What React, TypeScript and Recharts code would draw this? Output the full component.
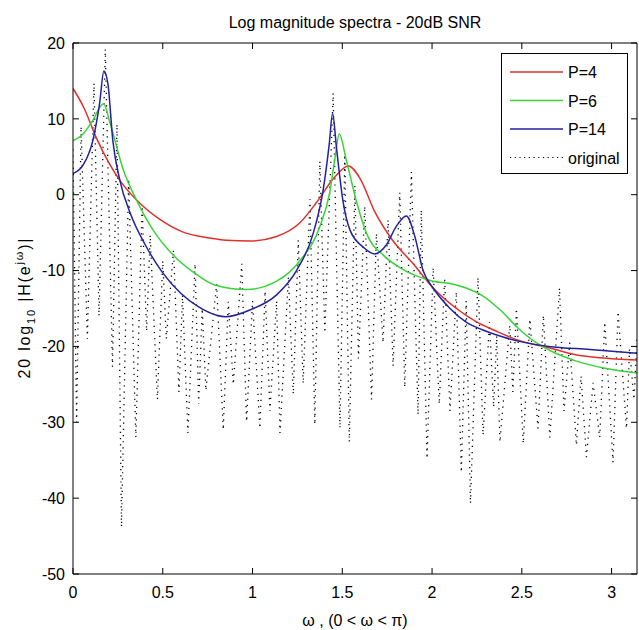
import { LineChart, Line, XAxis, YAxis, Legend } from "recharts"

const xTicks = [0, 0.5, 1, 1.5, 2, 2.5, 3]
const yTicks = [-50, -40, -30, -20, -10, 0, 10, 20]

// P=4 model spectrum
const p4W = [0, 0.06, 0.13, 0.2, 0.27, 0.35, 0.48, 0.61, 0.76, 0.855, 0.985, 1.134, 1.264, 1.357, 1.45, 1.534, 1.6, 1.68, 1.78, 1.895, 2.006, 2.136, 2.25, 2.35, 2.47, 2.656, 2.8, 2.934, 3.1416]
const p4Db = [14, 11.5, 7.5, 4.2, 1.6, -0.6, -3.2, -4.9, -5.7, -6.0, -6.1, -5.5, -3.7, -1.0, 2.1, 3.8, 2.1, -2.2, -6.0, -9.1, -12.3, -15.0, -16.8, -17.9, -19.1, -20.2, -21.1, -21.5, -21.8]

// P=6 model spectrum
const p6W = [0, 0.056, 0.11, 0.17, 0.206, 0.28, 0.36, 0.45, 0.56, 0.67, 0.79, 0.967, 1.134, 1.264, 1.375, 1.43, 1.459, 1.483, 1.524, 1.58, 1.635, 1.73, 1.82, 1.913, 2.006, 2.1, 2.19, 2.28, 2.38, 2.48, 2.58, 2.68, 2.8, 2.97, 3.1416]
const p6Db = [7.1, 8.0, 9.8, 12.0, 9.5, 3.3, -1.0, -4.8, -8.0, -10.2, -11.9, -12.5, -11.4, -8.7, -4.2, 0.3, 4.8, 8.0, 4.4, -1.0, -5.1, -8.0, -9.6, -10.7, -11.4, -11.7, -12.3, -13.3, -15.2, -17.6, -19.5, -20.8, -21.9, -22.9, -23.5]

// P=14 model spectrum
const p14W = [0, 0.056, 0.11, 0.148, 0.172, 0.194, 0.222, 0.26, 0.32, 0.4, 0.5, 0.6, 0.7, 0.8, 0.85, 0.985, 1.134, 1.245, 1.338, 1.394, 1.427, 1.446, 1.468, 1.505, 1.542, 1.616, 1.68, 1.746, 1.8, 1.857, 1.904, 1.95, 2.006, 2.1, 2.19, 2.28, 2.4, 2.5, 2.65, 2.88, 3.1416]
const p14Db = [2.8, 3.9, 7.1, 12.0, 16.3, 14.7, 7.1, 2.0, -2.5, -6.5, -10.3, -13.0, -14.8, -15.9, -16.1, -15.2, -13.2, -10.0, -5.1, 0.7, 6.6, 10.7, 6.1, -1.0, -4.6, -6.9, -7.8, -6.6, -4.2, -2.8, -5.5, -10.0, -12.3, -15.0, -16.8, -17.8, -18.8, -19.4, -20.0, -20.4, -20.9]

// original (noisy) spectrum
const origW = [0, 0.02, 0.045, 0.08, 0.117, 0.145, 0.18, 0.22, 0.245, 0.27, 0.31, 0.35, 0.385, 0.41, 0.43, 0.47, 0.5, 0.52, 0.56, 0.59, 0.61, 0.64, 0.68, 0.7, 0.72, 0.74, 0.8, 0.837, 0.865, 0.893, 0.94, 0.967, 1.0, 1.041, 1.07, 1.097, 1.134, 1.153, 1.2, 1.227, 1.255, 1.282, 1.32, 1.347, 1.375, 1.403, 1.449, 1.487, 1.514, 1.539, 1.57, 1.59, 1.625, 1.663, 1.69, 1.727, 1.755, 1.783, 1.82, 1.848, 1.885, 1.922, 1.94, 1.972, 2.006, 2.04, 2.07, 2.1, 2.135, 2.163, 2.19, 2.214, 2.256, 2.284, 2.32, 2.343, 2.36, 2.378, 2.433, 2.45, 2.47, 2.508, 2.545, 2.59, 2.62, 2.656, 2.71, 2.735, 2.767, 2.804, 2.83, 2.86, 2.897, 2.934, 2.962, 3.008, 3.036, 3.083, 3.1, 3.125, 3.1416]
const origDb = [6, -30, 9, -19, 14.7, -16, 19.2, -22.7, 9.3, -43.8, 2.1, -32, -1.5, -18, -5.3, -27, -8.7, -19, -7.3, -26, -13.2, -31.4, -9.1, -27.6, -15, -25.8, -11.8, -31, -14.1, -25, -9.1, -29.9, -14, -30.8, -12.7, -28.5, -14, -31.4, -10.8, -26.3, -6, -24.9, -0.6, -30.3, 4.4, -18.2, 13.4, -30.8, 5.3, -32.6, 1.2, -21.6, -1.5, -27, -5.1, -19.5, -3.3, -22.6, 0.3, -25.4, 3.0, -29, -2, -34.8, -9.6, -27.6, -11, -28.5, -12.8, -36.6, -14, -40.7, -10.9, -31.7, -16.8, -28, -18.6, -32.6, -17.2, -26, -15, -32.8, -16.4, -30.8, -15.9, -32, -12.3, -28.5, -19.5, -33, -23.9, -34.6, -24.8, -32, -16.8, -35.3, -15.4, -30.8, -20.3, -27, -19]

const legendNames = ["P=4", "P=6", "P=14", "original"]
const colors = ["#e0302c", "#3ad23a", "#22229c", "#000"]

const zip = (w: number[], db: number[]) => w.map((x, i) => ({ w: x, db: db[i] }))

const FONT = "'Liberation Sans', Arial, Helvetica, sans-serif"
const TICK_LEN = 6

// matlab style ticks: short marks pointing into the plot box
function BottomTick({ x, y, payload }: any) {
  const ay = y - 13
  return (
    <g>
      <line x1={x} x2={x} y1={ay} y2={ay - TICK_LEN} stroke="#000" />
      <text x={x} y={y} dy="0.71em" textAnchor="middle" fontSize={16} fill="#000" fontFamily={FONT}>{payload.value}</text>
    </g>
  )
}

function LeftTick({ x, y, payload }: any) {
  const ax = x + 8
  return (
    <g>
      <line x1={ax} x2={ax + TICK_LEN} y1={y} y2={y} stroke="#000" />
      <text x={x} y={y} dy="0.355em" textAnchor="end" fontSize={16} fill="#000" fontFamily={FONT}>{payload.value}</text>
    </g>
  )
}

function TopTick({ x, y }: any) {
  return <line x1={x} x2={x} y1={y} y2={y + TICK_LEN} stroke="#000" />
}

function RightTick({ x, y }: any) {
  return <line x1={x} x2={x - TICK_LEN} y1={y} y2={y} stroke="#000" />
}

function LegendBox() {
  return (
    <svg width={127} height={121} style={{ display: "block" }}>
      <rect x={0.5} y={0.5} width={126} height={120} fill="#fff" stroke="#000" />
      {legendNames.map((name, i) => {
        const y = 19 + i * 28.5
        return (
          <g key={name}>
            <line x1={9} x2={62} y1={y} y2={y} stroke={colors[i]} strokeWidth={i === 3 ? 1.2 : 1.5}
              strokeDasharray={i === 3 ? "1.2 3.5" : undefined} />
            <text x={67} y={y + 6} fontSize={16} fill="#000" fontFamily={FONT}>{name}</text>
          </g>
        )
      })}
    </svg>
  )
}

function YLabel(props: any) {
  const vb = props.viewBox
  const cx = 30
  const cy = vb.y + vb.height / 2
  return (
    <text x={cx} y={cy} transform={`rotate(-90 ${cx} ${cy})`} textAnchor="middle" fontSize={16} fill="#000"
      fontFamily={FONT} textLength={140} lengthAdjust="spacing">
      20 log<tspan dy={5} fontSize={11}>10</tspan>
      <tspan dy={-5}> |H(e</tspan>
      <tspan dy={-7} fontSize={11}>jω</tspan>
      <tspan dy={7}>)|</tspan>
    </text>
  )
}

function XLabel(props: any) {
  const vb = props.viewBox
  return (
    <text x={vb.x + vb.width / 2} y={vb.y + 52} textAnchor="middle" fontSize={16} fill="#000" fontFamily={FONT}>
      ω , (0 &lt; ω &lt; π)
    </text>
  )
}

export default function App() {
  return (
    <div style={{ position: "absolute", left: 0, top: 0, background: "#fff", fontFamily: FONT }}>
      <LineChart width={639} height={630} margin={{ top: 42, right: 1, left: 0, bottom: 0 }}>
        <XAxis dataKey="w" type="number" domain={[0, 3.14159]} ticks={xTicks} allowDataOverflow
          height={56} stroke="#000" tickSize={0} tickMargin={13} tickLine={false}
          tick={<BottomTick />} label={<XLabel />} />
        <XAxis xAxisId="top" orientation="top" dataKey="w" type="number" domain={[0, 3.14159]} ticks={xTicks}
          allowDataOverflow height={1} stroke="#000" tickSize={0} tickMargin={0} tickLine={false} tick={<TopTick />}
          label={{ value: "Log magnitude spectra - 20dB SNR", position: "top", offset: 14, fill: "#000", fontSize: 16 }} />
        <YAxis type="number" domain={[-50, 20]} ticks={yTicks} allowDataOverflow width={73} stroke="#000"
          tickSize={0} tickMargin={8} tickLine={false} tick={<LeftTick />} label={<YLabel />} />
        <YAxis yAxisId="right" orientation="right" type="number" domain={[-50, 20]} ticks={yTicks}
          allowDataOverflow width={1} stroke="#000" tickSize={0} tickMargin={0} tickLine={false} tick={<RightTick />} />
        <Line data={zip(origW, origDb)} dataKey="db" name="original" type="linear" stroke="#000"
          strokeWidth={1.3} strokeDasharray="1.2 5" dot={false} isAnimationActive={false} />
        <Line data={zip(p4W, p4Db)} dataKey="db" name="P=4" type="monotone" stroke={colors[0]}
          strokeWidth={1.5} dot={false} isAnimationActive={false} />
        <Line data={zip(p6W, p6Db)} dataKey="db" name="P=6" type="monotone" stroke={colors[1]}
          strokeWidth={1.5} dot={false} isAnimationActive={false} />
        <Line data={zip(p14W, p14Db)} dataKey="db" name="P=14" type="monotone" stroke={colors[2]}
          strokeWidth={1.5} dot={false} isAnimationActive={false} />
        <Legend layout="horizontal" verticalAlign="middle" align="center" content={<LegendBox />}
          wrapperStyle={{ position: "absolute", left: 501, top: 53, width: 127, height: 121 }} />
      </LineChart>
    </div>
  )
}
